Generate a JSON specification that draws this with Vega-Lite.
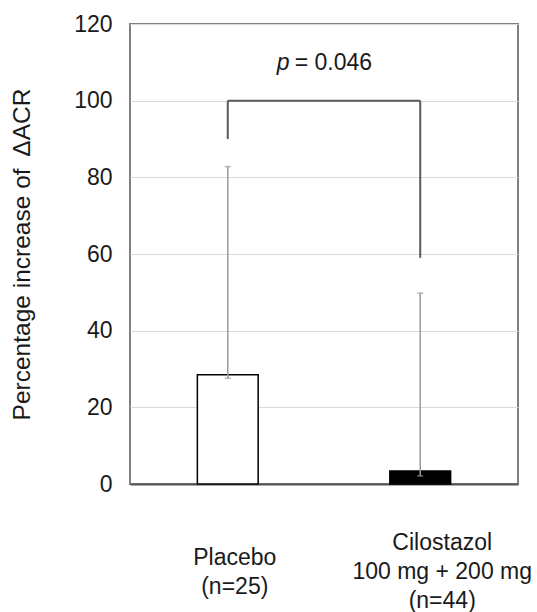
{
  "$schema": "https://vega.github.io/schema/vega-lite/v6.json",
  "autosize": "none",
  "padding": {"left": 130, "top": 24, "right": 19, "bottom": 128},
  "width": 388,
  "height": 460,
  "config": {
    "font": "Liberation Sans",
    "view": {"stroke": "#808080", "strokeWidth": 2}
  },
  "datasets": {
    "bars": [
      {"group": "Placebo", "value": 28.5, "lo": 27.6, "hi": 82.8},
      {"group": "Cilostazol", "value": 3.4, "lo": 2.1, "hi": 49.8}
    ],
    "legs": [
      {"group": "Placebo", "y": 90, "y2": 100},
      {"group": "Cilostazol", "y": 59, "y2": 100}
    ],
    "bridge": [
      {"from": "Placebo", "to": "Cilostazol", "y": 100}
    ]
  },
  "encoding": {
    "x": {
      "field": "group",
      "type": "nominal",
      "sort": ["Placebo", "Cilostazol"],
      "scale": {"domain": ["Placebo", "Cilostazol"], "paddingInner": 0.684, "paddingOuter": 0.35},
      "axis": {
        "title": null,
        "ticks": false,
        "domain": true,
        "domainColor": "#555555",
        "domainWidth": 2,
        "labelAngle": 0,
        "labelFontSize": 23,
        "labelColor": "#1a1a1a",
        "labelLineHeight": 29,
        "labelBaseline": "middle",
        "labelPadding": {"condition": {"test": "datum.value == 'Cilostazol'", "value": 58}, "value": 73},
        "labelOffset": {"condition": {"test": "datum.value == 'Cilostazol'", "value": 22}, "value": 7},
        "labelExpr": "datum.value == 'Placebo' ? ['Placebo', '(n=25)'] : ['Cilostazol', '100 mg + 200 mg', '(n=44)']"
      }
    }
  },
  "layer": [
    {
      "data": {"name": "bars"},
      "mark": {"type": "bar", "stroke": "black", "strokeWidth": 1.5},
      "encoding": {
        "y": {
          "field": "value",
          "type": "quantitative",
          "scale": {"domain": [0, 120], "nice": false},
          "axis": {
            "title": "Percentage increase of \u2009\u0394ACR",
            "titleFontSize": 24.5,
            "titleFontWeight": "normal",
            "titleColor": "#1a1a1a",
            "titlePadding": 39,
            "values": [0, 10, 20, 30, 40, 50, 60, 70, 80, 90, 100, 110, 120],
            "labelExpr": "datum.value % 20 == 0 ? datum.label : ''",
            "labelFontSize": 23,
            "labelColor": "#1a1a1a",
            "labelPadding": 18,
            "ticks": false,
            "domain": false,
            "grid": true,
            "gridColor": "#d9d9d9",
            "gridWidth": 1.2
          }
        },
        "fill": {
          "field": "group",
          "type": "nominal",
          "scale": {"domain": ["Placebo", "Cilostazol"], "range": ["#ffffff", "#000000"]},
          "legend": null
        }
      }
    },
    {
      "data": {"name": "bars"},
      "mark": {"type": "rule", "color": "#9a9a9a", "strokeWidth": 1.5},
      "encoding": {
        "y": {"field": "lo", "type": "quantitative"},
        "y2": {"field": "hi"}
      }
    },
    {
      "data": {"name": "bars"},
      "mark": {"type": "tick", "orient": "horizontal", "color": "#9a9a9a", "thickness": 1.5, "size": 6},
      "encoding": {
        "y": {"field": "hi", "type": "quantitative"}
      }
    },
    {
      "data": {"name": "bars"},
      "mark": {"type": "tick", "orient": "horizontal", "color": "#9a9a9a", "thickness": 1.5, "size": 6},
      "encoding": {
        "y": {"field": "lo", "type": "quantitative"}
      }
    },
    {
      "data": {"name": "legs"},
      "mark": {"type": "rule", "color": "#595959", "strokeWidth": 2},
      "encoding": {
        "y": {"field": "y", "type": "quantitative"},
        "y2": {"field": "y2"}
      }
    },
    {
      "data": {"name": "bridge"},
      "mark": {"type": "rule", "color": "#595959", "strokeWidth": 2},
      "encoding": {
        "x": {"field": "from", "type": "nominal"},
        "x2": {"field": "to"},
        "y": {"field": "y", "type": "quantitative"}
      }
    },
    {
      "data": {"values": [{"t": "p", "at": "Placebo", "yv": 108}]},
      "mark": {"type": "text", "fontSize": 23, "fontStyle": "italic", "align": "right", "baseline": "alphabetic", "color": "#1a1a1a", "dx": -2},
      "encoding": {
        "x": {"field": "at", "type": "nominal", "bandPosition": 1.55},
        "y": {"field": "yv", "type": "quantitative"},
        "text": {"field": "t"}
      }
    },
    {
      "data": {"values": [{"t": "= 0.046", "at": "Placebo", "yv": 108}]},
      "mark": {"type": "text", "fontSize": 23, "align": "left", "baseline": "alphabetic", "color": "#1a1a1a", "dx": 3},
      "encoding": {
        "x": {"field": "at", "type": "nominal", "bandPosition": 1.55},
        "y": {"field": "yv", "type": "quantitative"},
        "text": {"field": "t"}
      }
    }
  ]
}
